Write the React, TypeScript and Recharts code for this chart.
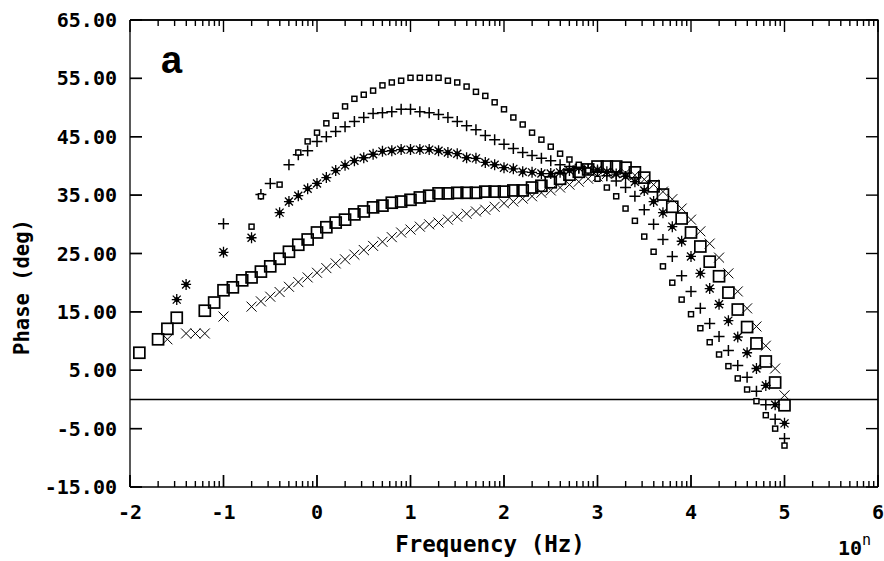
import React from "react";
import { ScatterChart, Scatter, XAxis, YAxis, ReferenceLine } from "recharts";

// phase (deg) vs log10 frequency, one list per marker set
const tinySquares: [number, number][] = [
  [-0.7, 29.6], [-0.6, 34.8], [-0.4, 36.8], [-0.2, 42.3], [-0.1, 44.2], [0, 45.7], [0.1, 47.3], [0.2, 48.6],
  [0.3, 50.2], [0.4, 51.5], [0.5, 52.2], [0.6, 52.9], [0.7, 53.8], [0.8, 54.3], [0.9, 54.6], [1.0, 55.1],
  [1.1, 55.1], [1.2, 55.1], [1.3, 55.1], [1.4, 54.6], [1.5, 54.3], [1.6, 53.6], [1.7, 52.7], [1.8, 52.0],
  [1.9, 50.9], [2.0, 49.7], [2.1, 48.3], [2.2, 47.1], [2.3, 45.7], [2.4, 44.5], [2.5, 43.3], [2.6, 42.1],
  [2.7, 41.1], [2.8, 40.2], [2.9, 39.2], [3.0, 37.8], [3.1, 36.3], [3.2, 34.8], [3.3, 32.7], [3.4, 30.6],
  [3.5, 27.9], [3.6, 25.3], [3.7, 22.8], [3.8, 20.0], [3.9, 17.1], [4.0, 14.6], [4.1, 12.2], [4.2, 9.8],
  [4.3, 7.7], [4.4, 5.7], [4.5, 3.6], [4.6, 1.7], [4.7, -0.3], [4.8, -2.7], [4.9, -5.0], [5.0, -7.9],
];

const plusMarks: [number, number][] = [
  [-1.0, 30.1], [-0.6, 35.1], [-0.5, 37.0], [-0.3, 40.2], [-0.2, 41.9], [-0.1, 42.6], [0, 44.2], [0.1, 45.0],
  [0.2, 45.9], [0.3, 46.7], [0.4, 47.6], [0.5, 48.3], [0.6, 49.0], [0.7, 49.1], [0.8, 49.3], [0.9, 49.7],
  [1.0, 49.7], [1.1, 49.3], [1.2, 49.1], [1.3, 48.8], [1.4, 48.3], [1.5, 47.6], [1.6, 46.9], [1.7, 46.2],
  [1.8, 45.2], [1.9, 44.5], [2.0, 43.7], [2.1, 43.0], [2.2, 42.3], [2.3, 41.8], [2.4, 41.3], [2.5, 40.9],
  [2.6, 40.2], [2.7, 39.9], [2.8, 39.6], [2.9, 39.4], [3.0, 39.0], [3.1, 38.3], [3.2, 37.4], [3.3, 36.3],
  [3.4, 34.8], [3.5, 32.5], [3.6, 30.0], [3.7, 27.4], [3.8, 24.5], [3.9, 21.2], [4.0, 18.5], [4.1, 15.6],
  [4.2, 13.0], [4.3, 10.8], [4.4, 8.4], [4.5, 5.8], [4.6, 3.8], [4.7, 1.4], [4.8, -0.9], [4.9, -3.4], [5.0, -6.7],
];

const starMarks: [number, number][] = [
  [-1.5, 17.1], [-1.4, 19.7], [-1.0, 25.2], [-0.7, 27.7], [-0.4, 32.0], [-0.3, 33.9], [-0.2, 34.9], [-0.1, 36.1],
  [0, 37.0], [0.1, 38.0], [0.2, 39.2], [0.3, 40.1], [0.4, 40.9], [0.5, 41.4], [0.6, 42.0], [0.7, 42.5],
  [0.8, 42.6], [0.9, 42.8], [1.0, 42.8], [1.1, 42.8], [1.2, 42.8], [1.3, 42.6], [1.4, 42.3], [1.5, 42.1],
  [1.6, 41.4], [1.7, 41.3], [1.8, 40.6], [1.9, 40.2], [2.0, 39.7], [2.1, 39.5], [2.2, 39.0], [2.3, 38.9],
  [2.4, 38.7], [2.5, 38.7], [2.6, 38.9], [2.7, 39.2], [2.8, 39.7], [2.9, 39.4], [3.0, 39.3], [3.1, 39.0],
  [3.2, 38.6], [3.3, 38.2], [3.4, 37.3], [3.5, 35.8], [3.6, 33.9], [3.7, 32.0], [3.8, 29.6], [3.9, 27.1],
  [4.0, 24.5], [4.1, 21.6], [4.2, 19.0], [4.3, 16.3], [4.4, 13.5], [4.5, 10.7], [4.6, 8.0], [4.7, 5.3],
  [4.8, 2.4], [4.9, -0.9], [5.0, -4.1],
];

const bigSquares: [number, number][] = [
  [-1.9, 8.0], [-1.7, 10.3], [-1.6, 12.1], [-1.5, 14.0], [-1.2, 15.2], [-1.1, 16.6], [-1.0, 18.7], [-0.9, 19.2],
  [-0.8, 20.4], [-0.7, 20.9], [-0.6, 21.9], [-0.5, 22.8], [-0.4, 24.1], [-0.3, 25.3], [-0.2, 26.5], [-0.1, 27.4],
  [0, 28.6], [0.1, 29.5], [0.2, 30.3], [0.3, 30.8], [0.4, 31.7], [0.5, 32.2], [0.6, 32.9], [0.7, 33.2],
  [0.8, 33.7], [0.9, 33.9], [1.0, 34.2], [1.1, 34.6], [1.2, 34.9], [1.3, 35.3], [1.4, 35.3], [1.5, 35.4],
  [1.6, 35.4], [1.7, 35.4], [1.8, 35.6], [1.9, 35.6], [2.0, 35.6], [2.1, 35.8], [2.2, 35.8], [2.3, 36.3],
  [2.4, 36.6], [2.5, 37.2], [2.6, 37.8], [2.7, 38.5], [2.8, 39.0], [2.9, 39.4], [3.0, 39.9], [3.1, 39.9],
  [3.2, 39.9], [3.3, 39.7], [3.4, 38.9], [3.5, 38.0], [3.6, 36.5], [3.7, 35.1], [3.8, 33.0], [3.9, 31.0],
  [4.0, 28.6], [4.1, 26.2], [4.2, 23.6], [4.3, 21.1], [4.4, 18.3], [4.5, 15.4], [4.6, 12.4], [4.7, 9.6],
  [4.8, 6.5], [4.9, 2.9], [5.0, -1.0],
];

const crossMarks: [number, number][] = [
  [-1.6, 10.3], [-1.4, 11.3], [-1.3, 11.3], [-1.2, 11.3], [-1.0, 14.2], [-0.7, 15.9], [-0.6, 16.8], [-0.5, 17.6],
  [-0.4, 18.4], [-0.3, 19.3], [-0.2, 20.1], [-0.1, 20.9], [0, 21.7], [0.1, 22.5], [0.2, 23.3], [0.3, 24.0],
  [0.4, 24.8], [0.5, 25.6], [0.6, 26.3], [0.7, 27.0], [0.8, 27.8], [0.9, 28.6], [1.0, 29.1], [1.1, 29.6],
  [1.2, 30.0], [1.3, 30.3], [1.4, 30.8], [1.5, 31.3], [1.6, 31.8], [1.7, 32.2], [1.8, 32.5], [1.9, 33.0],
  [2.0, 33.6], [2.1, 33.9], [2.2, 34.4], [2.3, 34.8], [2.4, 35.4], [2.5, 35.8], [2.6, 36.3], [2.7, 36.8],
  [2.8, 37.3], [2.9, 37.8], [3.0, 38.2], [3.1, 38.6], [3.2, 38.8], [3.3, 38.8], [3.4, 38.4], [3.5, 37.7],
  [3.6, 36.8], [3.7, 35.6], [3.8, 34.3], [3.9, 32.7], [4.0, 30.8], [4.1, 28.8], [4.2, 26.7], [4.3, 24.3],
  [4.4, 21.6], [4.5, 18.5], [4.6, 15.6], [4.7, 12.5], [4.8, 9.2], [4.9, 5.3], [5.0, 0.7],
];

const xMajorTicks = [-2, -1, 0, 1, 2, 3, 4, 5, 6];
const yTicks = [-15, -5, 5, 15, 25, 35, 45, 55, 65];
const X_MIN = -2, X_MAX = 6, Y_MIN = -15, Y_MAX = 65;

// log minor ticks inside each decade
const xMinorTicks: number[] = [];
for (let d = X_MIN; d < X_MAX; d++) {
  for (let k = 2; k <= 9; k++) xMinorTicks.push(d + Math.log10(k));
}

const W = 884;
const H = 561;
const MONO = "'DejaVu Sans Mono', monospace";
const TICK_W = 1.4;

const toPts = (arr: [number, number][]) => arr.map(([x, y]) => ({ x, y }));

const TinySquare = ({ cx, cy }: any) => (
  <rect x={cx - 2.5} y={cy - 2.5} width={5} height={5} fill="#fff" stroke="#000" strokeWidth={1.5} />
);
const PlusShape = ({ cx, cy }: any) => (
  <path d={`M${cx - 5.5},${cy}H${cx + 5.5}M${cx},${cy - 5.5}V${cy + 5.5}`} stroke="#000" strokeWidth={1.5} fill="none" />
);
const StarShape = ({ cx, cy }: any) => (
  <g>
    <path
      d={`M${cx - 5},${cy}H${cx + 5}M${cx},${cy - 5.5}V${cy + 5.5}M${cx - 4},${cy - 4}L${cx + 4},${cy + 4}M${cx - 4},${cy + 4}L${cx + 4},${cy - 4}`}
      stroke="#000"
      strokeWidth={1.3}
      fill="none"
    />
    <circle cx={cx} cy={cy} r={2.5} fill="#000" />
  </g>
);
const BigSquare = ({ cx, cy }: any) => (
  <rect x={cx - 5.5} y={cy - 5.5} width={11} height={11} fill="none" stroke="#000" strokeWidth={1.7} />
);
const CrossShape = ({ cx, cy }: any) => (
  <path d={`M${cx - 5},${cy - 5}L${cx + 5},${cy + 5}M${cx - 5},${cy + 5}L${cx + 5},${cy - 5}`} stroke="#000" strokeWidth={1} fill="none" />
);

// inward tick marks, placed by the chart's scales like any other point
const tickMark = (dx: number, dy: number) => ({ cx, cy }: any) => (
  <path d={`M${cx},${cy}L${cx + dx},${cy + dy}`} stroke="#000" strokeWidth={TICK_W} fill="none" />
);
const UpMajor = tickMark(0, -12);
const UpMinor = tickMark(0, -6);
const DownMajor = tickMark(0, 12);
const DownMinor = tickMark(0, 6);
const RightTick = tickMark(12, 0);
const LeftTick = tickMark(-12, 0);
const NoMark = () => <g />;

const labelStyle = { fontFamily: MONO, fontWeight: "bold" as const, fill: "#000" };

// x tick labels; the axis title and the 10^n note ride along on two of the ticks
const XTickLabel = ({ x, y, payload }: any) => (
  <g>
    <path d={`M${x},${y}V${y - 12}`} stroke="#000" strokeWidth={TICK_W} fill="none" />
    <text x={x} y={y + 32} textAnchor="middle" fontSize={20} {...labelStyle}>
      {String(payload.value)}
    </text>
    {payload.value === 2 && (
      <text x={x - 14} y={y + 65} textAnchor="middle" fontSize={22.5} {...labelStyle}>
        Frequency (Hz)
      </text>
    )}
    {payload.value === X_MAX && (
      <g>
        <text x={x - 40} y={y + 68} fontSize={20} {...labelStyle}>10</text>
        <text x={x - 16} y={y + 58} fontSize={15} fontFamily={MONO} fill="#000">n</text>
      </g>
    )}
  </g>
);

const YTickLabel = ({ x, y, payload }: any) => (
  <g>
    <path d={`M${x},${y}H${x + 12}`} stroke="#000" strokeWidth={TICK_W} fill="none" />
    <text x={x - 13} y={y + 7} textAnchor="end" fontSize={20} {...labelStyle}>
      {payload.value.toFixed(2)}
    </text>
    {payload.value === 25 && (
      <text
        x={x - 101}
        y={y + 33.5}
        transform={`rotate(-90, ${x - 101}, ${y + 33.5})`}
        textAnchor="middle"
        fontSize={20.5}
        {...labelStyle}
      >
        Phase (deg)
      </text>
    )}
    {payload.value === Y_MAX && (
      <text x={x + 31} y={y + 53} fontSize={38} fontWeight="bold" fontFamily="'Liberation Sans', Arial, sans-serif" fill="#000">
        a
      </text>
    )}
  </g>
);

export default function App() {
  const bottomMajor = xMajorTicks.map((x) => ({ x, y: Y_MIN }));
  const bottomMinor = xMinorTicks.map((x) => ({ x, y: Y_MIN }));
  const topMajor = xMajorTicks.map((x) => ({ x, y: Y_MAX }));
  const topMinor = xMinorTicks.map((x) => ({ x, y: Y_MAX }));
  const leftTicks = yTicks.map((y) => ({ x: X_MIN, y }));
  const rightTicks = yTicks.map((y) => ({ x: X_MAX, y }));
  const frame = [
    { x: X_MIN, y: Y_MAX },
    { x: X_MAX, y: Y_MAX },
    { x: X_MAX, y: Y_MIN },
  ];

  return (
    <div style={{ position: "absolute", left: 0, top: 0, width: W, height: H, background: "#fff" }}>
      <ScatterChart width={W} height={H} margin={{ top: 20, right: 6, left: 0, bottom: 0 }}>
        <XAxis
          dataKey="x"
          type="number"
          domain={[X_MIN, X_MAX]}
          ticks={xMajorTicks}
          interval={0}
          height={74}
          tickSize={0}
          tickMargin={0}
          tick={<XTickLabel />}
          axisLine={{ stroke: "#000", strokeWidth: 1.3 }}
          tickLine={false}
        />
        <XAxis
          xAxisId="top"
          orientation="top"
          type="number"
          domain={[X_MIN, X_MAX]}
          height={0}
          tick={false}
          tickLine={false}
          axisLine={{ stroke: "#000", strokeWidth: 1.3 }}
        />
        <YAxis
          dataKey="y"
          type="number"
          domain={[Y_MIN, Y_MAX]}
          ticks={yTicks}
          interval={0}
          width={130}
          tickSize={0}
          tickMargin={0}
          tick={<YTickLabel />}
          axisLine={{ stroke: "#000", strokeWidth: 1.3 }}
          tickLine={false}
        />
        <YAxis
          yAxisId="right"
          orientation="right"
          type="number"
          domain={[Y_MIN, Y_MAX]}
          width={0}
          tick={false}
          tickLine={false}
          axisLine={{ stroke: "#000", strokeWidth: 1.3 }}
        />
        <ReferenceLine y={Y_MAX} stroke="#000" strokeWidth={1.3} />
        <ReferenceLine x={X_MAX} stroke="#000" strokeWidth={1.3} />
        <ReferenceLine y={0} stroke="#000" strokeWidth={1.5} />
        <Scatter data={frame} line={{ stroke: "#000", strokeWidth: 1.3 }} lineType="joint" shape={<NoMark />} isAnimationActive={false} />
        <Scatter data={bottomMajor} shape={<UpMajor />} isAnimationActive={false} />
        <Scatter data={bottomMinor} shape={<UpMinor />} isAnimationActive={false} />
        <Scatter data={topMajor} shape={<DownMajor />} isAnimationActive={false} />
        <Scatter data={topMinor} shape={<DownMinor />} isAnimationActive={false} />
        <Scatter data={leftTicks} shape={<RightTick />} isAnimationActive={false} />
        <Scatter data={rightTicks} shape={<LeftTick />} isAnimationActive={false} />
        <Scatter data={toPts(crossMarks)} shape={<CrossShape />} isAnimationActive={false} />
        <Scatter data={toPts(bigSquares)} shape={<BigSquare />} isAnimationActive={false} />
        <Scatter data={toPts(starMarks)} shape={<StarShape />} isAnimationActive={false} />
        <Scatter data={toPts(plusMarks)} shape={<PlusShape />} isAnimationActive={false} />
        <Scatter data={toPts(tinySquares)} shape={<TinySquare />} isAnimationActive={false} />
      </ScatterChart>
    </div>
  );
}
